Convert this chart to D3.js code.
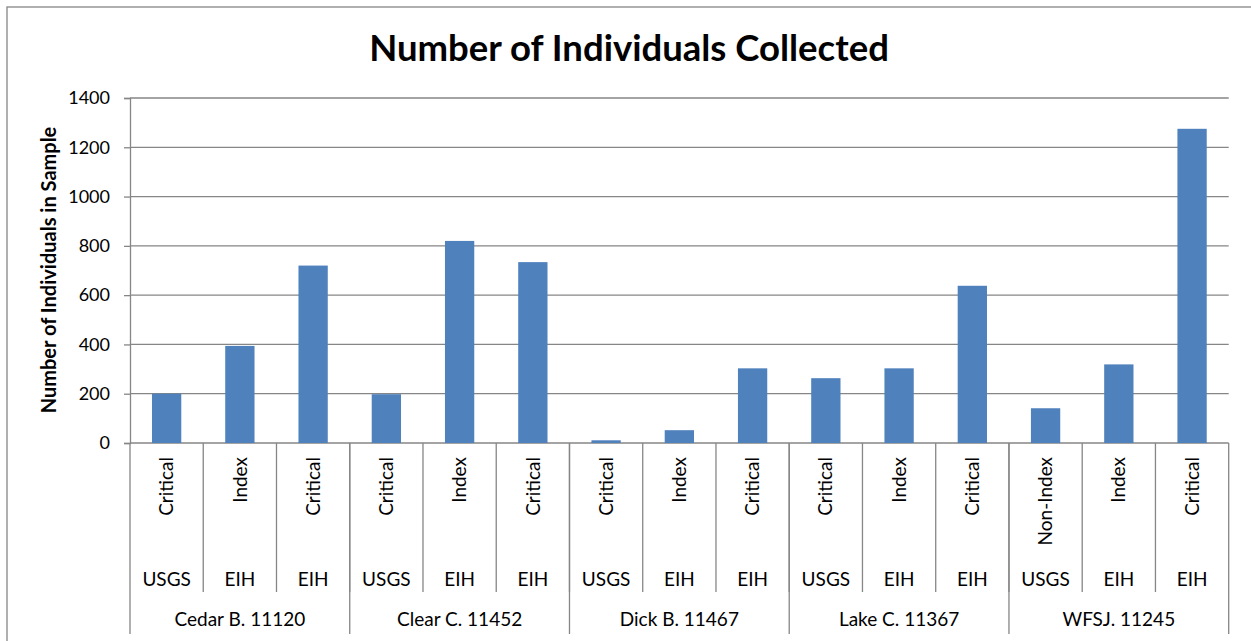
<html>
  <head>
    <title>Number of Individuals Collected</title>
    <script src="https://d3js.org/d3.v7.min.js"></script>
    <style>
      body { margin: 0; background: #fff; }
      text { font-family: Lato, "Open Sans", sans-serif; fill: #000; }
    </style>
  </head>
  <body>
    <svg id="chart" width="1251" height="641"></svg>
    <script>
      // chart values
      const sites = ["Cedar B. 11120", "Clear C. 11452", "Dick B. 11467", "Lake C. 11367", "WFSJ. 11245"];
      const agencies = ["USGS", "EIH", "EIH"];
      const sampleTypes = [
        ["Critical", "Index", "Critical"],
        ["Critical", "Index", "Critical"],
        ["Critical", "Index", "Critical"],
        ["Critical", "Index", "Critical"],
        ["Non-Index", "Index", "Critical"]
      ];
      const counts = [
        [200, 394, 720],
        [198, 820, 734],
        [11, 52, 303],
        [263, 303, 638],
        [141, 319, 1275]
      ];
      const yTicks = [0, 200, 400, 600, 800, 1000, 1200, 1400];

      const svg = d3.select("#chart");
      const gridColor = "#868686";
      const plot = { left: 130, right: 1228.7, top: 98, bottom: 443 };

      // flatten into one row per bar
      let rows = [];
      sites.forEach((s, i) => {
        agencies.forEach((a, j) => {
          rows.push({ key: i + "-" + j, site: s, agency: a, type: sampleTypes[i][j], value: counts[i][j] });
        });
      });

      const x = d3.scaleBand()
        .domain(rows.map(d => d.key))
        .range([plot.left, plot.right])
        .padding(0);
      const xBar = d3.scaleBand()
        .domain(rows.map(d => d.key))
        .range([plot.left, plot.right])
        .paddingInner(0.6)
        .paddingOuter(0.3);
      const y = d3.scaleLinear().domain([0, 1400]).range([plot.bottom, plot.top]);

      // chart frame (right and bottom edges fall outside the picture)
      svg.append("rect")
        .attr("x", 7).attr("y", 7)
        .attr("width", 1300).attr("height", 700)
        .attr("fill", "none")
        .attr("stroke", gridColor)
        .attr("stroke-width", 1.3);

      // title
      svg.append("text")
        .attr("x", 629)
        .attr("y", 61)
        .attr("text-anchor", "middle")
        .attr("font-size", 36.5)
        .attr("font-weight", "bold")
        .text("Number of Individuals Collected");

      // y axis
      const yAxis = d3.axisLeft(y)
        .tickValues(yTicks)
        .tickSize(6)
        .tickPadding(14)
        .tickFormat(d3.format("d"));
      const yg = svg.append("g")
        .attr("transform", "translate(" + plot.left + ",0)")
        .call(yAxis);
      yg.select(".domain").attr("stroke", gridColor).attr("stroke-width", 1.3);
      yg.selectAll(".tick line").attr("stroke", gridColor).attr("stroke-width", 1.3);
      yg.selectAll(".tick text")
        .attr("font-size", 18)
        .attr("font-family", "Lato")
        .attr("fill", "#000");

      // gridlines
      svg.append("g")
        .selectAll("line")
        .data(yTicks)
        .join("line")
        .attr("x1", plot.left)
        .attr("x2", plot.right)
        .attr("y1", d => y(d))
        .attr("y2", d => y(d))
        .attr("stroke", gridColor)
        .attr("stroke-width", 1.3);

      svg.append("text")
        .attr("transform", "translate(56," + 270 + ") rotate(-90)")
        .attr("text-anchor", "middle")
        .attr("font-size", 20)
        .attr("font-weight", "bold")
        .text("Number of Individuals in Sample");

      // bars
      svg.append("g")
        .selectAll("rect")
        .data(rows)
        .join("rect")
        .attr("x", d => xBar(d.key))
        .attr("width", xBar.bandwidth())
        .attr("y", d => y(d.value))
        .attr("height", d => y(0) - y(d.value))
        .attr("fill", "#4f81bd");

      // multi-level category axis
      const xg = svg.append("g");
      const step = x.step();
      // separators between bars
      xg.selectAll("line.cat")
        .data(rows.slice(1))
        .join("line")
        .attr("class", "cat")
        .attr("x1", d => x(d.key))
        .attr("x2", d => x(d.key))
        .attr("y1", plot.bottom)
        .attr("y2", 592)
        .attr("stroke", gridColor)
        .attr("stroke-width", 1.3);
      // separators between sites
      const siteEdges = sites.map((s, i) => plot.left + i * 3 * step).concat([plot.right]);
      xg.selectAll("line.site")
        .data(siteEdges)
        .join("line")
        .attr("class", "site")
        .attr("x1", d => d)
        .attr("x2", d => d)
        .attr("y1", plot.bottom)
        .attr("y2", 634)
        .attr("stroke", gridColor)
        .attr("stroke-width", 1.3);

      xg.selectAll("text.type")
        .data(rows)
        .join("text")
        .attr("class", "type")
        .attr("transform", d => "translate(" + (x(d.key) + step / 2) + ",457) rotate(-90)")
        .attr("text-anchor", "end")
        .attr("dy", "0.35em")
        .attr("font-size", 19)
        .text(d => d.type);

      xg.selectAll("text.agency")
        .data(rows)
        .join("text")
        .attr("class", "agency")
        .attr("x", d => x(d.key) + step / 2)
        .attr("y", 586)
        .attr("text-anchor", "middle")
        .attr("font-size", 19)
        .text(d => d.agency);

      xg.selectAll("text.site")
        .data(sites)
        .join("text")
        .attr("class", "site")
        .attr("x", (d, i) => plot.left + (i * 3 + 1.5) * step)
        .attr("y", 626)
        .attr("text-anchor", "middle")
        .attr("font-size", 19)
        .text(d => d);
    </script>
  </body>
</html>
